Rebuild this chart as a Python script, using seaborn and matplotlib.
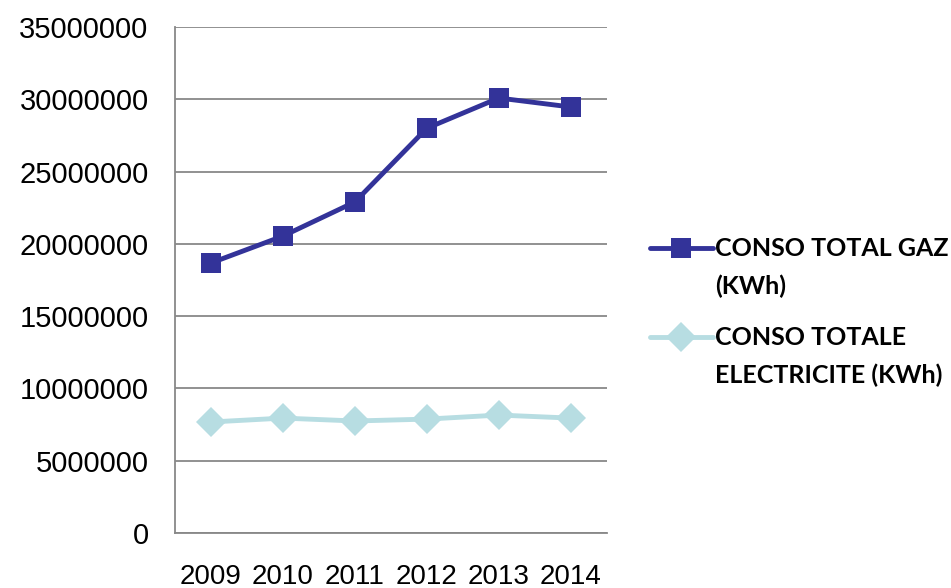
import matplotlib
matplotlib.use('Agg')
import numpy as np
import pandas as pd
import seaborn as sns
import matplotlib.pyplot as plt
from matplotlib.legend_handler import HandlerLine2D

years = ['2009', '2010', '2011', '2012', '2013', '2014']
gaz = [18680000, 20540000, 22900000, 28000000, 30090000, 29470000]
elec = [7680000, 7950000, 7750000, 7880000, 8160000, 7950000]
labels = ['CONSO TOTAL GAZ\n(KWh)', 'CONSO TOTALE\nELECTRICITE (KWh)']

df = pd.DataFrame({
    'x': list(range(len(years))) * 2,
    'val': gaz + elec,
    'serie': [labels[0]] * len(years) + [labels[1]] * len(years),
})

sns.set_style('white')
plt.rcParams['font.family'] = ['Liberation Sans', 'DejaVu Sans']
plt.rcParams['text.color'] = 'black'
plt.rcParams['xtick.color'] = 'black'
plt.rcParams['ytick.color'] = 'black'

fig = plt.figure(figsize=(9.51, 5.88), dpi=100)
ax = fig.add_axes([0.184, 0.0935, 0.454, 0.8605])

sns.lineplot(data=df, x='x', y='val', hue='serie', style='serie',
             palette=['#333399', '#b7dde2'], markers=['s', 'D'], dashes=False,
             linewidth=3.5, markersize=15, markeredgewidth=0, ax=ax, legend=True)

grey = '#888888'
ax.set_xlim(-0.5, len(years) - 0.5)
ax.set_ylim(0, 35000000)
ax.set_yticks(np.arange(0, 35000001, 5000000))
ax.set_yticklabels([str(v) for v in range(0, 35000001, 5000000)], fontsize=21)
ax.yaxis.grid(True, color=grey, linewidth=1.3)
ax.set_xticks(np.arange(-0.5, len(years), 1.0))
ax.set_xticklabels([])
ax.set_xticks(range(len(years)), minor=True)
ax.set_xticklabels(years, minor=True, fontsize=20)
ax.tick_params(axis='x', which='major', direction='out', length=7, color=grey, width=1.3)
ax.tick_params(axis='x', which='minor', length=0, pad=22)
ax.tick_params(axis='y', direction='out', length=5, color=grey, width=1.3, pad=14)
ax.set_xlabel('')
ax.set_ylabel('')
for s in ['top', 'right']:
    ax.spines[s].set_visible(False)
for s in ['left', 'bottom']:
    ax.spines[s].set_color(grey)
    ax.spines[s].set_linewidth(1.3)


# poignee alignee sur la premiere ligne du texte
class UpLine(HandlerLine2D):
    def create_artists(self, legend, orig_handle, xdescent, ydescent,
                       width, height, fontsize, trans):
        return super().create_artists(legend, orig_handle, xdescent,
                                      ydescent - 1.6 * fontsize, width, height,
                                      fontsize, trans)


h, l = ax.get_legend_handles_labels()
ax.legend_.remove()
leg = fig.legend(h, l, loc='upper left', bbox_to_anchor=(0.66, 0.635), frameon=False,
                 prop={'family': 'Lato', 'weight': 'bold', 'size': 18},
                 handlelength=2.5, handletextpad=0.1, labelspacing=1.1,
                 handler_map={type(h[0]): UpLine()})
for t in leg.get_texts():
    t.set_linespacing(1.75)

fig.savefig('out.png', dpi=100)
